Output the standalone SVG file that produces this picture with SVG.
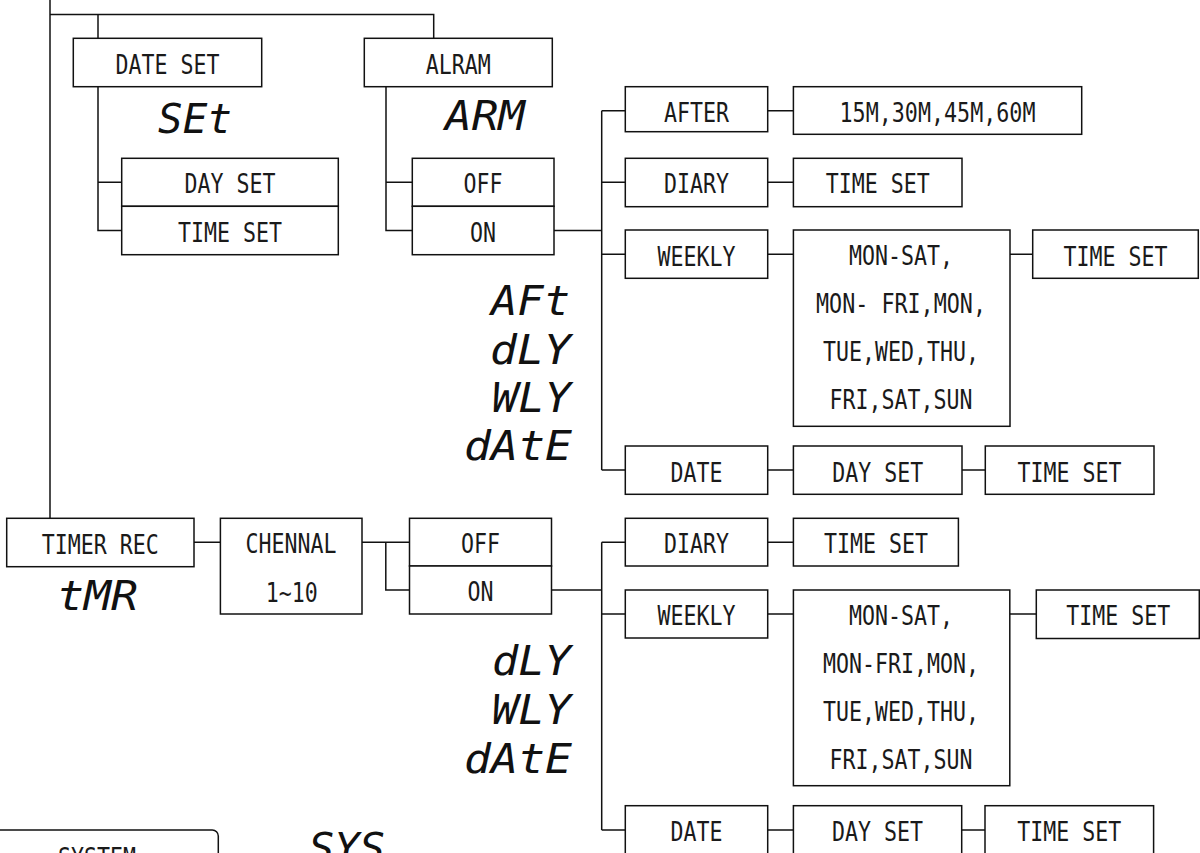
<svg xmlns="http://www.w3.org/2000/svg" width="1200" height="853" viewBox="0 0 1200 853">
<style>
.box{fill:#fff;stroke:#111;stroke-width:1.5}
.lbl{font-family:"DejaVu Sans Mono","Liberation Mono",monospace;font-size:27px;text-anchor:middle;fill:#1a1a1a}
.seg{font-family:"DejaVu Sans Mono","Liberation Mono",monospace;font-style:italic;font-size:41px;fill:#111}
.con{fill:none;stroke:#111;stroke-width:1.5}
</style>
<rect width="1200" height="853" fill="#fff"/>
<g id="connectors" class="con">
<path d="M50,0 V518.3"/>
<path d="M50,14.5 H433.7 V38.3"/>
<path d="M98,14.5 V38.3"/>
<path d="M98,86.7 V230.5 H121.7 M98,182.3 H121.7"/>
<path d="M386,86.7 V230.5 H412.3 M386,182.3 H412.3"/>
<path d="M554,230.5 H601.7"/>
<path d="M601.7,110.7 V470 M601.7,110.7 H625.3 M601.7,182.3 H625.3 M601.7,254.2 H625.3 M601.7,470 H625.3"/>
<path d="M767.7,110.7 H793.4 M767.7,182.3 H793.4 M767.7,254.2 H793.4 M1010,254.2 H1032.7 M767.7,470 H793.4 M962,470 H985.3"/>
<path d="M194,542.3 H220.4 M362,542.3 H409.5 M385.8,542.3 V590 H409.5"/>
<path d="M551.5,590 H601.7"/>
<path d="M601.7,542.3 V830 M601.7,542.3 H625.3 M601.7,614 H625.3 M601.7,830 H625.3"/>
<path d="M767.7,542.3 H793.4 M767.7,614 H793.4 M1009.8,614 H1036.3 M767.7,830 H793.4 M961.7,830 H985"/>
</g>
<g id="dateset"><rect class="box" x="73.3" y="38.3" width="188.4" height="48.4"/><text class="lbl" x="167.5" y="74" textLength="104" lengthAdjust="spacingAndGlyphs">DATE SET</text></g>
<g id="alram"><rect class="box" x="364.3" y="38.3" width="188" height="48.4"/><text class="lbl" x="458.3" y="74" textLength="65" lengthAdjust="spacingAndGlyphs">ALRAM</text></g>
<g id="seg-set"><text class="seg" x="158" y="133" textLength="74" lengthAdjust="spacingAndGlyphs">SEt</text></g>
<g id="seg-arm"><text class="seg" x="445" y="130" textLength="80" lengthAdjust="spacingAndGlyphs">ARM</text></g>
<g id="dayset1"><rect class="box" x="121.7" y="158.3" width="216.6" height="48"/><text class="lbl" x="230" y="193.3" textLength="91" lengthAdjust="spacingAndGlyphs">DAY SET</text></g>
<g id="timeset1"><rect class="box" x="121.7" y="206.3" width="216.6" height="48.4"/><text class="lbl" x="230" y="241.7" textLength="104" lengthAdjust="spacingAndGlyphs">TIME SET</text></g>
<g id="off1"><rect class="box" x="412.3" y="158.3" width="141.7" height="48"/><text class="lbl" x="483" y="193.3" textLength="39" lengthAdjust="spacingAndGlyphs">OFF</text></g>
<g id="on1"><rect class="box" x="412.3" y="206.3" width="141.7" height="48.4"/><text class="lbl" x="483" y="241.7" textLength="26" lengthAdjust="spacingAndGlyphs">ON</text></g>
<g id="after"><rect class="box" x="625.3" y="86.7" width="142.4" height="45"/><text class="lbl" x="696.5" y="121.5" textLength="65" lengthAdjust="spacingAndGlyphs">AFTER</text></g>
<g id="mins"><rect class="box" x="793.4" y="86.7" width="288.3" height="47.6"/><text class="lbl" x="937.5" y="121.7" textLength="196" lengthAdjust="spacingAndGlyphs">15M,30M,45M,60M</text></g>
<g id="diary1"><rect class="box" x="625.3" y="158.3" width="142.4" height="48.4"/><text class="lbl" x="696.5" y="193.3" textLength="65" lengthAdjust="spacingAndGlyphs">DIARY</text></g>
<g id="timeset2"><rect class="box" x="793.4" y="158.3" width="168.6" height="48.4"/><text class="lbl" x="877.7" y="193.3" textLength="104" lengthAdjust="spacingAndGlyphs">TIME SET</text></g>
<g id="weekly1"><rect class="box" x="625.3" y="230" width="142.4" height="48.3"/><text class="lbl" x="696.5" y="265.5" textLength="78" lengthAdjust="spacingAndGlyphs">WEEKLY</text></g>
<g id="days1"><rect class="box" x="793.4" y="230" width="216.6" height="196.3"/>
<text class="lbl" x="901" y="265" textLength="104" lengthAdjust="spacingAndGlyphs">MON-SAT,</text>
<text class="lbl" x="901" y="313" textLength="170" lengthAdjust="spacingAndGlyphs">MON- FRI,MON,</text>
<text class="lbl" x="901" y="361" textLength="156" lengthAdjust="spacingAndGlyphs">TUE,WED,THU,</text>
<text class="lbl" x="901" y="409" textLength="143" lengthAdjust="spacingAndGlyphs">FRI,SAT,SUN</text></g>
<g id="timeset3"><rect class="box" x="1032.7" y="230" width="165.6" height="48.3"/><text class="lbl" x="1115.5" y="265.5" textLength="104" lengthAdjust="spacingAndGlyphs">TIME SET</text></g>
<g id="date1"><rect class="box" x="625.3" y="446" width="142.4" height="48.3"/><text class="lbl" x="696.5" y="481.5" textLength="52" lengthAdjust="spacingAndGlyphs">DATE</text></g>
<g id="dayset2"><rect class="box" x="793.4" y="446" width="168.6" height="48.3"/><text class="lbl" x="877.7" y="481.5" textLength="91" lengthAdjust="spacingAndGlyphs">DAY SET</text></g>
<g id="timeset4"><rect class="box" x="985.3" y="446" width="168.7" height="48.3"/><text class="lbl" x="1069.6" y="481.5" textLength="104" lengthAdjust="spacingAndGlyphs">TIME SET</text></g>
<g id="seg-alarm-modes">
<text class="seg" x="570" y="315" text-anchor="end" textLength="79" lengthAdjust="spacingAndGlyphs">AFt</text>
<text class="seg" x="571" y="364" text-anchor="end" textLength="81" lengthAdjust="spacingAndGlyphs">dLY</text>
<text class="seg" x="571" y="412" text-anchor="end" textLength="79" lengthAdjust="spacingAndGlyphs">WLY</text>
<text class="seg" x="572" y="460" text-anchor="end" textLength="108" lengthAdjust="spacingAndGlyphs">dAtE</text>
</g>
<g id="timerrec"><rect class="box" x="6.7" y="518.3" width="187.3" height="48.4"/><text class="lbl" x="100.3" y="553.5" textLength="117" lengthAdjust="spacingAndGlyphs">TIMER REC</text></g>
<g id="seg-tmr"><text class="seg" x="57" y="610" textLength="81" lengthAdjust="spacingAndGlyphs">tMR</text></g>
<g id="chennal"><rect class="box" x="220.4" y="518.3" width="141.6" height="95.7"/><text class="lbl" x="291" y="553.3" textLength="91" lengthAdjust="spacingAndGlyphs">CHENNAL</text><text class="lbl" x="291.8" y="601.7" textLength="52" lengthAdjust="spacingAndGlyphs">1~10</text></g>
<g id="off2"><rect class="box" x="409.5" y="518.3" width="142" height="47.7"/><text class="lbl" x="480.5" y="553.3" textLength="39" lengthAdjust="spacingAndGlyphs">OFF</text></g>
<g id="on2"><rect class="box" x="409.5" y="566" width="142" height="48"/><text class="lbl" x="480.5" y="601.3" textLength="26" lengthAdjust="spacingAndGlyphs">ON</text></g>
<g id="diary2"><rect class="box" x="625.3" y="518.3" width="142.4" height="47.7"/><text class="lbl" x="696.5" y="553.3" textLength="65" lengthAdjust="spacingAndGlyphs">DIARY</text></g>
<g id="timeset5"><rect class="box" x="793.4" y="518.3" width="165" height="47.7"/><text class="lbl" x="876" y="553.3" textLength="104" lengthAdjust="spacingAndGlyphs">TIME SET</text></g>
<g id="weekly2"><rect class="box" x="625.3" y="590" width="142.4" height="48"/><text class="lbl" x="696.5" y="625" textLength="78" lengthAdjust="spacingAndGlyphs">WEEKLY</text></g>
<g id="days2"><rect class="box" x="793.4" y="590" width="216.4" height="195.7"/>
<text class="lbl" x="901" y="625" textLength="104" lengthAdjust="spacingAndGlyphs">MON-SAT,</text>
<text class="lbl" x="901" y="673" textLength="156" lengthAdjust="spacingAndGlyphs">MON-FRI,MON,</text>
<text class="lbl" x="901" y="721" textLength="156" lengthAdjust="spacingAndGlyphs">TUE,WED,THU,</text>
<text class="lbl" x="901" y="769" textLength="143" lengthAdjust="spacingAndGlyphs">FRI,SAT,SUN</text></g>
<g id="timeset6"><rect class="box" x="1036.3" y="590" width="163" height="48.5"/><text class="lbl" x="1118.3" y="625" textLength="104" lengthAdjust="spacingAndGlyphs">TIME SET</text></g>
<g id="seg-rec-modes">
<text class="seg" x="571" y="675" text-anchor="end" textLength="79" lengthAdjust="spacingAndGlyphs">dLY</text>
<text class="seg" x="571" y="724" text-anchor="end" textLength="79" lengthAdjust="spacingAndGlyphs">WLY</text>
<text class="seg" x="572" y="772.5" text-anchor="end" textLength="108" lengthAdjust="spacingAndGlyphs">dAtE</text>
</g>
<g id="date2"><rect class="box" x="625.3" y="805.7" width="142.4" height="48.3"/><text class="lbl" x="696.5" y="841" textLength="52" lengthAdjust="spacingAndGlyphs">DATE</text></g>
<g id="dayset3"><rect class="box" x="793.4" y="805.7" width="168.3" height="48.3"/><text class="lbl" x="877.5" y="841" textLength="91" lengthAdjust="spacingAndGlyphs">DAY SET</text></g>
<g id="timeset7"><rect class="box" x="985" y="805.7" width="168.6" height="48.3"/><text class="lbl" x="1069.3" y="841" textLength="104" lengthAdjust="spacingAndGlyphs">TIME SET</text></g>
<g id="system"><rect class="box" x="-10" y="830" width="228.3" height="60" rx="6"/><text class="lbl" x="97" y="866.5" textLength="78" lengthAdjust="spacingAndGlyphs">SYSTEM</text></g>
<g id="seg-sys"><text class="seg" x="309" y="862" textLength="76" lengthAdjust="spacingAndGlyphs">SYS</text></g>
</svg>
